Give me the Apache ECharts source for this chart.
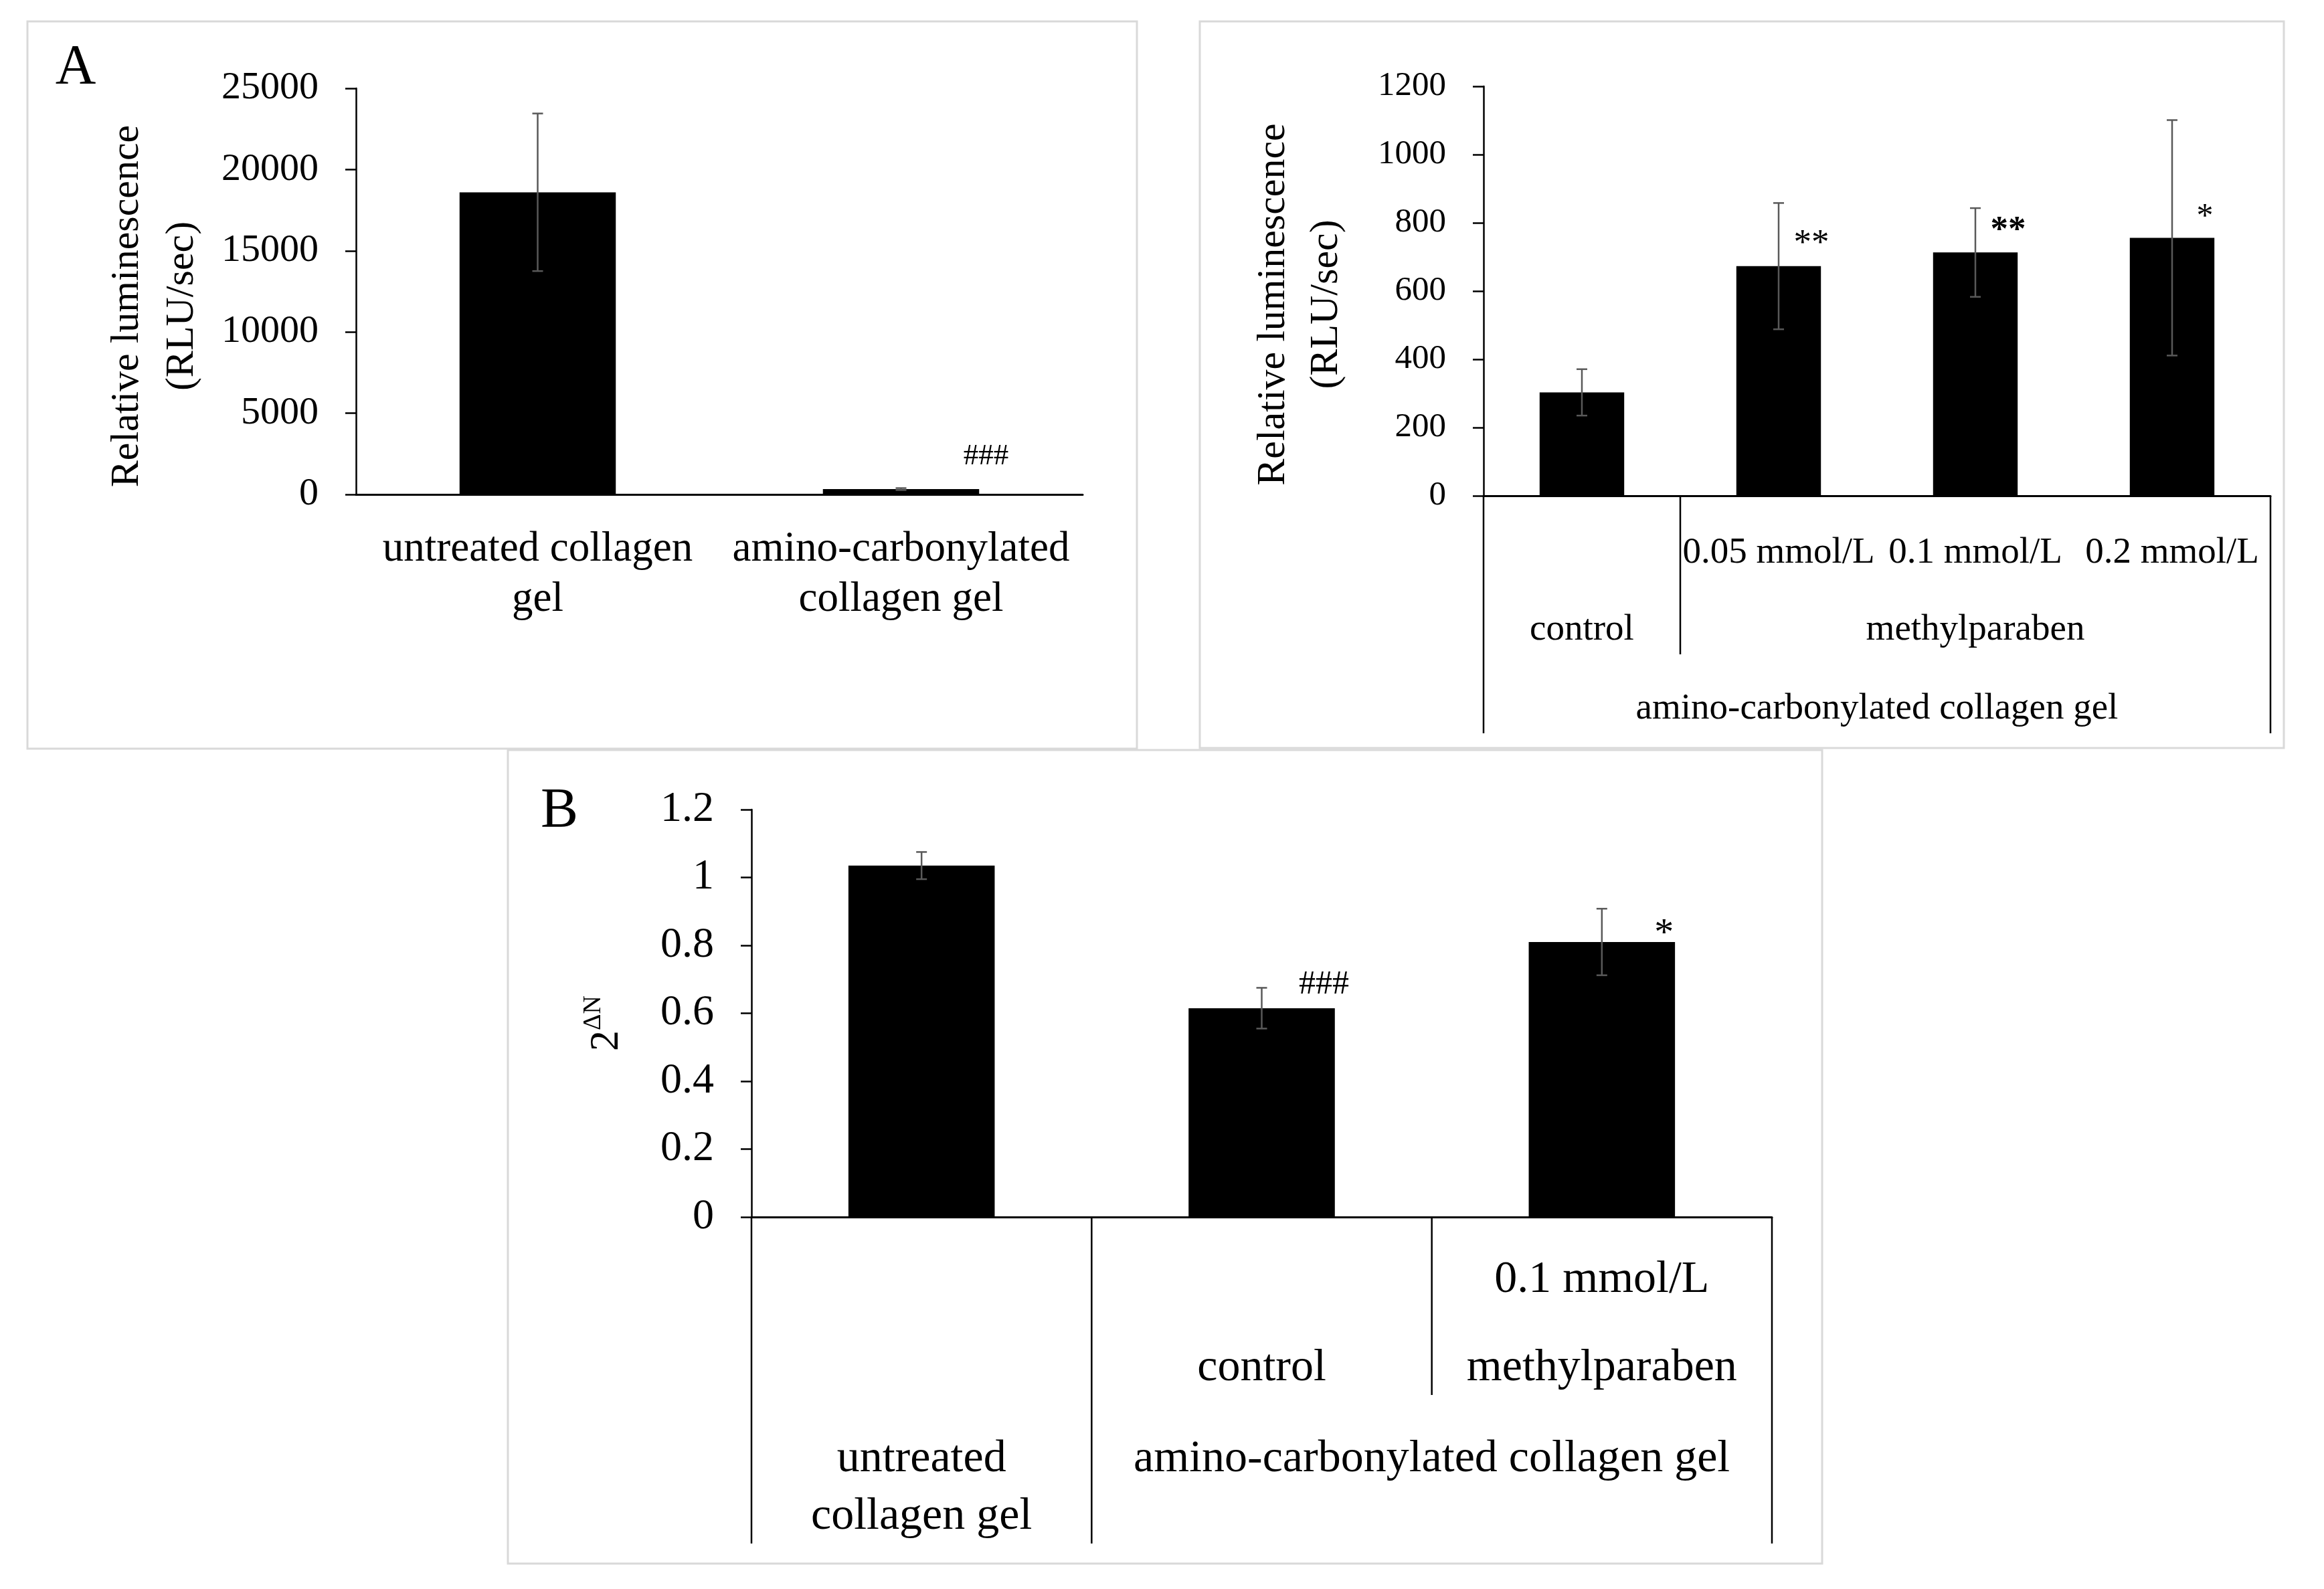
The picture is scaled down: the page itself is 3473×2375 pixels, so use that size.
<!DOCTYPE html>
<html lang="en">
<head>
<meta charset="UTF-8">
<title>Relative luminescence and 2^ΔN</title>
<script src="https://cdn.jsdelivr.net/npm/echarts@6/dist/echarts.min.js"></script>
<style>
html, body { margin: 0; padding: 0; background: #fff; }
#chart { width: 3473px; height: 2375px; }
</style>
</head>
<body>
<div id="chart"></div>
<script>
// panel A: untreated vs amino-carbonylated gel
var catsA = ['untreated collagen\ngel', 'amino-carbonylated\ncollagen gel'];
var meanA = [18600, 330];
var sdA = [4850, 60];
var sigA = ['', '###'];
var ticksA = [0, 25000, 5000];

// top right panel: methylparaben doses
var catsR = ['control', '0.05 mmol/L', '0.1 mmol/L', '0.2 mmol/L'];
var meanR = [303, 673, 713, 756];
var sdR = [68, 185, 130, 345];
var sigR = ['', '**', '**', '*'];
var doseR = ['', '0.05 mmol/L', '0.1 mmol/L', '0.2 mmol/L'];
var groupR = [['control', 0, 0], ['methylparaben', 1, 3]];
var baseR = [['amino-carbonylated collagen gel', 0, 3]];
var splitR = [[0, 1], [1, 0], [4, 1]];   // [category boundary, full height]
var ticksR = [0, 1200, 200];

// panel B: 2^ΔN
var catsB = ['untreated collagen gel', 'control', '0.1 mmol/L methylparaben'];
var meanB = [1.035, 0.615, 0.81];
var sdB = [0.04, 0.06, 0.098];
var sigB = ['', '###', '*'];
var doseB = ['', '', '0.1 mmol/L'];
var groupB = [['control', 1, 1], ['methylparaben', 2, 2]];
var baseB = [['untreated\ncollagen gel', 0, 0], ['amino-carbonylated collagen gel', 1, 2]];
var splitB = [[0, 1], [1, 1], [2, 0], [3, 1]];
var ticksB = [0, 1.2, 0.2];

var FONT = 'Liberation Serif';

function errorBars(ax, mean, sd) {
    return {
        type: 'custom', xAxisIndex: ax, yAxisIndex: ax, z: 5,
        encode: {x: 0, y: [1, 2]},
        data: mean.map(function (m, i) { return [i, m - sd[i], m + sd[i]]; }),
        renderItem: function (params, api) {
            var lo = api.coord([api.value(0), api.value(1)]);
            var hi = api.coord([api.value(0), api.value(2)]);
            var st = {stroke: '#595959', lineWidth: 2.5};
            return {type: 'group', children: [
                {type: 'line', shape: {x1: lo[0], y1: lo[1], x2: hi[0], y2: hi[1]}, style: st},
                {type: 'line', shape: {x1: lo[0] - 8, y1: lo[1], x2: lo[0] + 8, y2: lo[1]}, style: st},
                {type: 'line', shape: {x1: hi[0] - 8, y1: hi[1], x2: hi[0] + 8, y2: hi[1]}, style: st}
            ]};
        }
    };
}

// significance marks right of each bar top
function marks(ax, mean, sig, shift, sizeOf, boldOf, liftOf) {
    return {
        type: 'custom', xAxisIndex: ax, yAxisIndex: ax, z: 6,
        encode: {x: 0, y: 1},
        data: mean.map(function (m, i) { return [i, m]; }),
        renderItem: function (params, api) {
            var t = sig[params.dataIndex];
            if (!t) return null;
            var p = api.coord([api.value(0), api.value(1)]);
            var w = api.size([1, 0])[0];
            return {type: 'text', x: p[0] + w * shift, y: p[1] - liftOf(t), style: {
                text: t, fill: '#000', fontFamily: FONT,
                fontSize: sizeOf(t), fontWeight: boldOf(params.dataIndex) ? 'bold' : 'normal',
                align: 'center', verticalAlign: 'bottom', textAlign: 'center', textVerticalAlign: 'bottom'
            }};
        }
    };
}

// hierarchical category labels + divider lines under the x axis
function table(ax, n, levels, splits, rowY, splitLen, size, lineH) {
    var meta = [], data = [];
    levels.forEach(function (lv, r) {
        lv.forEach(function (g) {
            if (!g[0]) return;
            meta.push({kind: 'text', text: g[0], from: g[1], to: g[2], row: r});
            data.push([g[1], 0, g[2]]);
        });
    });
    splits.forEach(function (s) {
        meta.push({kind: 'line', at: s[0], full: s[1]});
        data.push([Math.min(s[0], n - 1), 0, s[0]]);
    });
    return {
        type: 'custom', xAxisIndex: ax, yAxisIndex: ax, z: 4,
        encode: {x: 0, y: 1},
        data: data,
        renderItem: function (params, api) {
            var it = meta[params.dataIndex];
            var w = api.size([1, 0])[0];
            var y0 = api.coord([0, 0])[1];
            function edge(k) {
                return k >= n ? api.coord([n - 1, 0])[0] + w / 2 : api.coord([k, 0])[0] - w / 2;
            }
            if (it.kind === 'text') {
                var x = (edge(it.from) + edge(it.to + 1)) / 2;
                return {type: 'text', x: x, y: y0 + rowY[it.row] - lineH / 2, style: {
                    text: it.text, fill: '#000', fontFamily: FONT, fontSize: size, lineHeight: lineH,
                    align: 'center', verticalAlign: 'top', textAlign: 'center', textVerticalAlign: 'top'
                }};
            }
            var xs = edge(it.at);
            return {type: 'line', shape: {x1: xs, y1: y0, x2: xs, y2: y0 + (it.full ? splitLen[1] : splitLen[0])},
                style: {stroke: '#000', lineWidth: 2.5}};
        }
    };
}

function yAxisOf(ax, ticks, size, name, nameStyle, gap) {
    return {
        type: 'value', gridIndex: ax, min: ticks[0], max: ticks[1], interval: ticks[2],
        splitLine: {show: false},
        axisLine: {show: true, lineStyle: {color: '#000', width: 2.5}},
        axisTick: {show: true, length: 16, lineStyle: {color: '#000', width: 2.5}},
        axisLabel: {color: '#000', fontFamily: FONT, fontSize: size, margin: 56,
            formatter: function (v) { return String(+v.toFixed(2)); }},
        name: name, nameLocation: 'middle', nameGap: gap, nameTextStyle: nameStyle
    };
}

function xAxisOf(ax, cats, showLabel) {
    return {
        type: 'category', gridIndex: ax, data: cats,
        axisLine: {show: true, lineStyle: {color: '#000', width: 3}},
        axisTick: {show: false},
        axisLabel: showLabel ? {show: true, interval: 0, color: '#000', fontFamily: FONT,
            fontSize: 63, lineHeight: 75, margin: 45} : {show: false}
    };
}

var chart = echarts.init(document.getElementById('chart'));

var lumName = {color: '#000', fontFamily: FONT, fontSize: 60, lineHeight: 82, padding: [0, 44, 0, 0]};

chart.setOption({
    backgroundColor: '#fff',
    animation: false,
    grid: [
        {left: 532, top: 132, width: 1086, height: 607},
        {left: 2217, top: 129, width: 1176, height: 612},
        {left: 1123, top: 1210, width: 1525, height: 609}
    ],
    xAxis: [xAxisOf(0, catsA, true), xAxisOf(1, catsR, false), xAxisOf(2, catsB, false)],
    yAxis: [
        yAxisOf(0, ticksA, 58, 'Relative luminescence\n(RLU/sec)', lumName, 219),
        yAxisOf(1, ticksR, 51, 'Relative luminescence\n(RLU/sec)',
            {color: '#000', fontFamily: FONT, fontSize: 60, lineHeight: 79, padding: [0, 40, 0, 0]}, 195),
        yAxisOf(2, ticksB, 64, '{b|2}{s|ΔN}', {
            color: '#000', padding: [0, 30, 0, 0],
            rich: {
                b: {fontFamily: FONT, fontSize: 62, lineHeight: 70, verticalAlign: 'bottom', color: '#000'},
                s: {fontFamily: FONT, fontSize: 38, lineHeight: 40, verticalAlign: 'top', color: '#000'}
            }
        }, 185)
    ],
    graphic: [
        {type: 'rect', shape: {x: 41, y: 32, width: 1658, height: 1087},
            style: {fill: 'none', stroke: '#d9d9d9', lineWidth: 3}},
        {type: 'rect', shape: {x: 1793, y: 32, width: 1620, height: 1086},
            style: {fill: 'none', stroke: '#d9d9d9', lineWidth: 3}},
        {type: 'rect', shape: {x: 759, y: 1121, width: 1964, height: 1216},
            style: {fill: 'none', stroke: '#d9d9d9', lineWidth: 3}},
        {type: 'text', x: 113, y: 103, style: {text: 'A', fill: '#000', fontFamily: FONT, fontSize: 84,
            align: 'center', verticalAlign: 'middle', textAlign: 'center', textVerticalAlign: 'middle'}},
        {type: 'text', x: 836, y: 1214, style: {text: 'B', fill: '#000', fontFamily: FONT, fontSize: 84,
            align: 'center', verticalAlign: 'middle', textAlign: 'center', textVerticalAlign: 'middle'}}
    ],
    series: [
        {type: 'bar', xAxisIndex: 0, yAxisIndex: 0, data: meanA, barWidth: '43%', itemStyle: {color: '#000'}},
        {type: 'bar', xAxisIndex: 1, yAxisIndex: 1, data: meanR, barWidth: '43%', itemStyle: {color: '#000'}},
        {type: 'bar', xAxisIndex: 2, yAxisIndex: 2, data: meanB, barWidth: '43%', itemStyle: {color: '#000'}},
        errorBars(0, meanA, sdA),
        errorBars(1, meanR, sdR),
        errorBars(2, meanB, sdB),
        marks(0, meanA, sigA, 0.234, function () { return 45; }, function () { return false; },
            function () { return 26; }),
        marks(1, meanR, sigR, 0.167, function (t) { return t === '*' ? 50 : 53; },
            function (i) { return i === 2; }, function () { return 6; }),
        marks(2, meanB, sigB, 0.183, function (t) { return t === '*' ? 58 : 50; }, function () { return false; },
            function (t) { return t === '*' ? -18 : 10; }),
        table(1, catsR.length, [doseR.map(function (d, i) { return [d, i, i]; }), groupR, baseR],
            splitR, [86, 201, 319], [237, 355], 55, 70),
        table(2, catsB.length, [doseB.map(function (d, i) { return [d, i, i]; }), groupB, baseB],
            splitB, [94, 226, 362], [266, 488], 68, 86)
    ]
});
</script>
</body>
</html>
